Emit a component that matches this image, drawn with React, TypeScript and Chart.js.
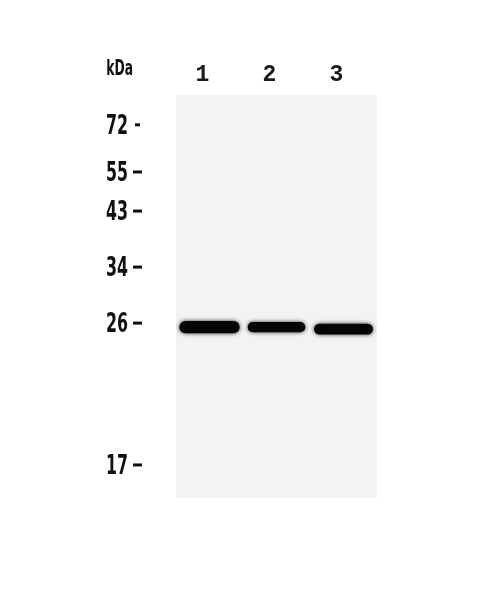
import { useEffect, useRef } from "react"
import { Chart, registerables } from "chart.js"

Chart.register(...registerables)

// lanes across the top
const lanes = ["1", "2", "3"]

// molecular weight ladder (kDa) and where each marker sits, % of blot height from the top
const markerKda = [72, 55, 43, 34, 26, 17]
const markerRf = [7.4, 19.1, 28.8, 42.7, 56.6, 91.8]

// one band per lane: centre (% of blot height) and half thickness
const bandRf = [57.6, 57.6, 58.1]
const bandHalf = [1.5, 1.25, 1.35]

// styles
const bandWidths = [0.9, 0.86, 0.88]
const dashWidths = [5, 9, 9, 9, 9, 9]
const labelFont = "'DejaVu Sans Condensed', 'DejaVu Sans', sans-serif"

const blotPlugin = {
  id: "blot",
  beforeDraw(chart: Chart) {
    const { ctx, chartArea: a } = chart
    ctx.save()
    ctx.fillStyle = "#ffffff"
    ctx.fillRect(0, 0, chart.width, chart.height)
    ctx.fillStyle = "#f3f3f3"
    ctx.fillRect(a.left, a.top, a.right - a.left, a.bottom - a.top)
    ctx.restore()
  },
  beforeDatasetsDraw(chart: Chart) {
    const ctx = chart.ctx
    ctx.save()
    ctx.shadowColor = "rgba(0, 0, 0, 0.8)"
    ctx.shadowBlur = 4
  },
  afterDatasetsDraw(chart: Chart) {
    chart.ctx.restore()
  },
  afterDraw(chart: Chart) {
    const { ctx, chartArea: a } = chart
    const y = chart.scales.y
    const right = a.left - 48
    ctx.save()
    ctx.fillStyle = "#111111"
    ctx.textAlign = "right"
    ctx.textBaseline = "middle"
    ctx.font = `bold 27px ${labelFont}`
    markerKda.forEach((k, i) => {
      const py = y.getPixelForValue(markerRf[i])
      ctx.save()
      ctx.translate(right, py + 2)
      ctx.scale(0.65, 1)
      ctx.fillText(String(k), 0, 0)
      ctx.restore()
      const dx = i === 0 ? right + 7 : right + 5
      ctx.fillRect(dx, py - 1.5, dashWidths[i], 3)
    })
    // unit label
    ctx.font = `bold 21px ${labelFont}`
    ctx.translate(a.left - 43, a.top - 25)
    ctx.scale(0.65, 1)
    ctx.fillText("kDa", 0, 0)
    ctx.restore()
  },
}

export default function App() {
  const chartRef = useRef<HTMLCanvasElement>(null)
  const chartInstance = useRef<Chart | null>(null)

  useEffect(() => {
    if (!chartRef.current) return
    if (chartInstance.current) {
      chartInstance.current.destroy()
    }
    const ctx = chartRef.current.getContext("2d")
    if (!ctx) return

    chartInstance.current = new Chart(ctx, {
      type: "bar",
      data: {
        labels: lanes,
        datasets: lanes.map((lane, i) => ({
          label: `Lane ${lane}`,
          data: lanes.map((_, j) =>
            j === i ? [bandRf[i] - bandHalf[i], bandRf[i] + bandHalf[i]] : null
          ),
          backgroundColor: "#050505",
          borderRadius: 20,
          borderSkipped: false,
          grouped: false,
          barPercentage: bandWidths[i],
          categoryPercentage: 1,
        })) as any,
      },
      plugins: [blotPlugin],
      options: {
        animation: false,
        responsive: true,
        maintainAspectRatio: false,
        events: [],
        layout: {
          padding: { left: 176, right: 123, top: 0, bottom: 97 },
        },
        plugins: {
          legend: { display: false },
          tooltip: { enabled: false },
        },
        scales: {
          x: {
            position: "top",
            grid: { display: false },
            border: { display: false },
            ticks: {
              color: "#1a1a1a",
              padding: -2,
              labelOffset: -7,
              font: {
                family: "'Liberation Mono', 'DejaVu Sans Mono', monospace",
                size: 23,
                weight: "bold",
              },
            },
            afterFit: (scale: any) => {
              scale.height = 95
            },
          },
          y: {
            display: false,
            min: 0,
            max: 100,
            reverse: true,
          },
        },
      },
    })

    return () => {
      if (chartInstance.current) {
        chartInstance.current.destroy()
        chartInstance.current = null
      }
    }
  }, [])

  return (
    <div style={{ position: "absolute", left: 0, top: 0, width: 500, height: 595 }}>
      <canvas ref={chartRef} />
    </div>
  )
}
